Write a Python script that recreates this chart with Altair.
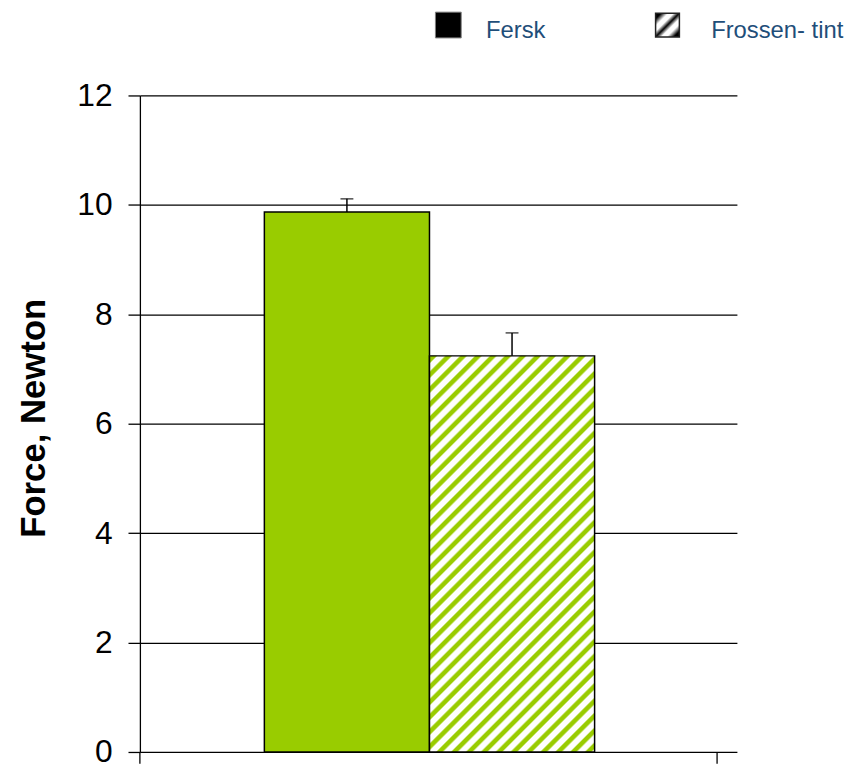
import math
import altair as alt
import pandas as pd

# ---------------- data ----------------
categories = ["Fersk", "Frossen- tint"]
values = [9.87, 7.24]
upper_errors = [0.24, 0.42]
y_ticks = [0, 2, 4, 6, 8, 10, 12]
y_title = "Force, Newton"

df = pd.DataFrame({"series": categories, "value": values, "err": upper_errors})
df["upper"] = df["value"] + df["err"]

# ---------------- style ----------------
W, H = 602, 662          # plot area
BAND = 582               # category span of the x axis
BAR_W = 166.5
OUTER_TOTAL = (W - 2 * BAR_W) / BAR_W
PAD_OUTER = OUTER_TOTAL / 2
ALIGN = 125.5 / (W - 2 * BAR_W)
GREEN = "#99CC00"
FONT = "Liberation Sans"
LEGEND_COLOR = "#1F4E79"
YMAX = 12

# diagonal hatch for the second bar (SVG gradient in bounding-box units)
bar_h = values[1] / YMAX * H
a = BAR_W / bar_h
s = (a + 1) / (a * a + 1)
n_per = (BAR_W + bar_h) / 15.0
stops = []
k = 0
while k / n_per <= 1:
    for frac, col in [(0.0, "#ffffff"), (0.14, GREEN), (0.44, GREEN), (0.58, "#ffffff")]:
        off = k / n_per + frac / n_per
        if off <= 1:
            stops.append({"offset": round(off, 5), "color": col})
    k += 1
stops.append({"offset": 1, "color": stops[-1]["color"]})
hatch = {"gradient": "linear", "x1": 0, "y1": 0, "x2": round(s * a, 5), "y2": round(s, 5),
         "stops": stops}

legend_hatch = {"gradient": "linear", "x1": 0, "y1": 0, "x2": 1, "y2": 1,
                "stops": [{"offset": 0, "color": "#000000"}, {"offset": 0.12, "color": "#000000"},
                          {"offset": 0.27, "color": "#ffffff"}, {"offset": 0.38, "color": "#ffffff"},
                          {"offset": 0.5, "color": "#000000"}, {"offset": 0.62, "color": "#ffffff"},
                          {"offset": 0.73, "color": "#ffffff"}, {"offset": 0.88, "color": "#000000"},
                          {"offset": 1, "color": "#000000"}]}

x_enc = alt.X("series:N",
              scale=alt.Scale(domain=categories, paddingInner=0, paddingOuter=PAD_OUTER, align=ALIGN),
              axis=None)
y_enc = alt.Y("value:Q",
              scale=alt.Scale(domain=[0, YMAX], nice=False, zero=True),
              axis=alt.Axis(values=y_ticks, format="d", title=y_title, labelFont=FONT, labelFontSize=32,
                            labelColor="black", labelPadding=16, tickSize=12, tickColor="black",
                            tickWidth=1.3, domainColor="black", domainWidth=1.3, gridColor="black",
                            gridWidth=1.3, grid=True, titleFont=FONT, titleFontSize=35,
                            titleFontWeight="bold", titleColor="black", titlePadding=26,
                            titleY=H / 2 - 6))

base = alt.Chart(df)

bar1 = base.mark_bar(fill=GREEN, stroke="black", strokeWidth=1.5).encode(
    x=x_enc, y=y_enc).transform_filter(alt.datum.series == categories[0])
bar2 = base.mark_bar(fill=hatch, stroke="black", strokeWidth=1.5).encode(
    x=x_enc, y=y_enc).transform_filter(alt.datum.series == categories[1])

err_line = base.mark_rule(color="black", strokeWidth=1.5).encode(
    x=x_enc, y="value:Q", y2="upper:Q")
err_cap = base.mark_tick(color="black", thickness=1.5, size=13).encode(
    x=x_enc, y="upper:Q")

one = alt.Chart(pd.DataFrame({"a": [0]}))
xtick_left = one.mark_rule(color="black", strokeWidth=1.3).encode(
    x=alt.value(0), y=alt.value(H), y2=alt.value(H + 12))
xtick_right = one.mark_rule(color="black", strokeWidth=1.3).encode(
    x=alt.value(BAND), y=alt.value(H), y2=alt.value(H + 12))

leg_sq1 = one.mark_square(fill="black", stroke="#808080", strokeWidth=1, opacity=1).encode(
    x=alt.value(311), y=alt.value(-71), size=alt.value(676))
leg_sq2 = one.mark_square(fill=legend_hatch, stroke="#222222", strokeWidth=1.5, opacity=1).encode(
    x=alt.value(532), y=alt.value(-71), size=alt.value(576))
leg_t1 = one.mark_text(text=categories[0], font=FONT, fontSize=24, color=LEGEND_COLOR,
                       align="left", baseline="alphabetic").encode(x=alt.value(349), y=alt.value(-58))
leg_t2 = one.mark_text(text=categories[1], font=FONT, fontSize=24, color=LEGEND_COLOR,
                       align="left", baseline="alphabetic").encode(x=alt.value(576), y=alt.value(-58))

chart = alt.layer(bar1, bar2, err_line, err_cap, xtick_left, xtick_right,
                  leg_sq1, leg_sq2, leg_t1, leg_t2).properties(
    width=W, height=H,
    background="white",
    autosize=alt.AutoSizeParams(type="none"),
    padding={"left": 133, "top": 85, "right": 110, "bottom": 16},
).configure_view(stroke=None)

chart.save("out.html", embed_options={"renderer": "svg", "actions": False})
